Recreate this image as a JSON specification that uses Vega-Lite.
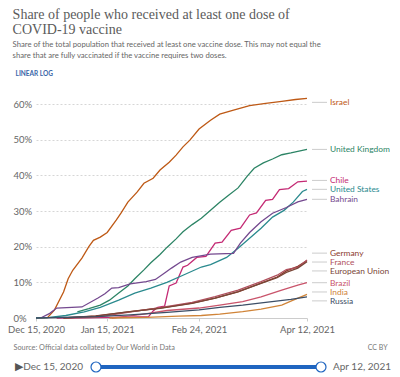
{
  "$schema": "https://vega.github.io/schema/vega-lite/v6.json",
  "padding": {"left": 7, "top": 8, "right": 5, "bottom": 5},
  "background": "white",
  "config": {"view": {"stroke": null}, "font": "Lato"},
  "title": {
    "text": ["Share of people who received at least one dose of", "COVID-19 vaccine"],
    "subtitle": ["Share of the total population that received at least one vaccine dose. This may not equal the", "share that are fully vaccinated if the vaccine requires two doses."],
    "anchor": "start", "frame": "bounds", "dx": 5,
    "font": "Liberation Serif", "fontSize": 14, "fontWeight": "normal", "color": "#5b5b5b", "lineHeight": 15,
    "subtitleFont": "Lato", "subtitleFontSize": 7.7, "subtitleColor": "#666", "subtitleLineHeight": 11, "subtitlePadding": 4,
    "offset": 10
  },
  "datasets": {
    "series": [
      {"country": "Israel", "date": "2020-12-15", "value": 0},
      {"country": "Israel", "date": "2020-12-20", "value": 0.1},
      {"country": "Israel", "date": "2020-12-23", "value": 2.2},
      {"country": "Israel", "date": "2020-12-27", "value": 7.3},
      {"country": "Israel", "date": "2020-12-29", "value": 11},
      {"country": "Israel", "date": "2020-12-31", "value": 13.4},
      {"country": "Israel", "date": "2021-01-04", "value": 16.8},
      {"country": "Israel", "date": "2021-01-07", "value": 20},
      {"country": "Israel", "date": "2021-01-09", "value": 21.8},
      {"country": "Israel", "date": "2021-01-12", "value": 22.7},
      {"country": "Israel", "date": "2021-01-15", "value": 24},
      {"country": "Israel", "date": "2021-01-19", "value": 27.5},
      {"country": "Israel", "date": "2021-01-21", "value": 29.4},
      {"country": "Israel", "date": "2021-01-24", "value": 32.5},
      {"country": "Israel", "date": "2021-01-28", "value": 35.3},
      {"country": "Israel", "date": "2021-01-31", "value": 37.8},
      {"country": "Israel", "date": "2021-02-04", "value": 39.2},
      {"country": "Israel", "date": "2021-02-07", "value": 41.5},
      {"country": "Israel", "date": "2021-02-11", "value": 43.7},
      {"country": "Israel", "date": "2021-02-14", "value": 45.7},
      {"country": "Israel", "date": "2021-02-17", "value": 48},
      {"country": "Israel", "date": "2021-02-20", "value": 49.9},
      {"country": "Israel", "date": "2021-02-24", "value": 53},
      {"country": "Israel", "date": "2021-03-01", "value": 55.5},
      {"country": "Israel", "date": "2021-03-05", "value": 57.2},
      {"country": "Israel", "date": "2021-03-11", "value": 58.3},
      {"country": "Israel", "date": "2021-03-18", "value": 59.6},
      {"country": "Israel", "date": "2021-03-25", "value": 60.2},
      {"country": "Israel", "date": "2021-04-01", "value": 60.8},
      {"country": "Israel", "date": "2021-04-07", "value": 61.3},
      {"country": "Israel", "date": "2021-04-12", "value": 61.6},

      {"country": "United Kingdom", "date": "2021-01-02", "value": 1.7},
      {"country": "United Kingdom", "date": "2021-01-07", "value": 2.6},
      {"country": "United Kingdom", "date": "2021-01-12", "value": 3.6},
      {"country": "United Kingdom", "date": "2021-01-16", "value": 5},
      {"country": "United Kingdom", "date": "2021-01-20", "value": 7},
      {"country": "United Kingdom", "date": "2021-01-24", "value": 9},
      {"country": "United Kingdom", "date": "2021-01-27", "value": 11},
      {"country": "United Kingdom", "date": "2021-01-31", "value": 13.5},
      {"country": "United Kingdom", "date": "2021-02-03", "value": 15.5},
      {"country": "United Kingdom", "date": "2021-02-07", "value": 17.8},
      {"country": "United Kingdom", "date": "2021-02-10", "value": 19.8},
      {"country": "United Kingdom", "date": "2021-02-14", "value": 22.2},
      {"country": "United Kingdom", "date": "2021-02-17", "value": 24.2},
      {"country": "United Kingdom", "date": "2021-02-21", "value": 26.2},
      {"country": "United Kingdom", "date": "2021-02-25", "value": 28},
      {"country": "United Kingdom", "date": "2021-03-01", "value": 30.2},
      {"country": "United Kingdom", "date": "2021-03-05", "value": 32.5},
      {"country": "United Kingdom", "date": "2021-03-09", "value": 34.5},
      {"country": "United Kingdom", "date": "2021-03-13", "value": 36.5},
      {"country": "United Kingdom", "date": "2021-03-17", "value": 39.8},
      {"country": "United Kingdom", "date": "2021-03-20", "value": 42},
      {"country": "United Kingdom", "date": "2021-03-24", "value": 43.5},
      {"country": "United Kingdom", "date": "2021-03-28", "value": 44.6},
      {"country": "United Kingdom", "date": "2021-04-01", "value": 45.8},
      {"country": "United Kingdom", "date": "2021-04-05", "value": 46.3},
      {"country": "United Kingdom", "date": "2021-04-09", "value": 46.9},
      {"country": "United Kingdom", "date": "2021-04-12", "value": 47.3},

      {"country": "Chile", "date": "2020-12-24", "value": 0},
      {"country": "Chile", "date": "2021-01-20", "value": 0.2},
      {"country": "Chile", "date": "2021-02-02", "value": 0.4},
      {"country": "Chile", "date": "2021-02-04", "value": 2},
      {"country": "Chile", "date": "2021-02-06", "value": 3},
      {"country": "Chile", "date": "2021-02-09", "value": 3.3},
      {"country": "Chile", "date": "2021-02-11", "value": 9},
      {"country": "Chile", "date": "2021-02-14", "value": 9.8},
      {"country": "Chile", "date": "2021-02-17", "value": 14.3},
      {"country": "Chile", "date": "2021-02-19", "value": 14.8},
      {"country": "Chile", "date": "2021-02-23", "value": 17},
      {"country": "Chile", "date": "2021-02-27", "value": 17.3},
      {"country": "Chile", "date": "2021-03-03", "value": 21},
      {"country": "Chile", "date": "2021-03-06", "value": 21.3},
      {"country": "Chile", "date": "2021-03-10", "value": 24.6},
      {"country": "Chile", "date": "2021-03-14", "value": 25.2},
      {"country": "Chile", "date": "2021-03-18", "value": 28.9},
      {"country": "Chile", "date": "2021-03-21", "value": 29.5},
      {"country": "Chile", "date": "2021-03-25", "value": 33},
      {"country": "Chile", "date": "2021-03-28", "value": 33.3},
      {"country": "Chile", "date": "2021-03-31", "value": 36},
      {"country": "Chile", "date": "2021-04-04", "value": 36.3},
      {"country": "Chile", "date": "2021-04-08", "value": 38.2},
      {"country": "Chile", "date": "2021-04-12", "value": 38.4},

      {"country": "United States", "date": "2020-12-15", "value": 0},
      {"country": "United States", "date": "2020-12-21", "value": 0.2},
      {"country": "United States", "date": "2020-12-28", "value": 0.7},
      {"country": "United States", "date": "2021-01-05", "value": 1.7},
      {"country": "United States", "date": "2021-01-12", "value": 3},
      {"country": "United States", "date": "2021-01-20", "value": 5},
      {"country": "United States", "date": "2021-01-27", "value": 7},
      {"country": "United States", "date": "2021-02-03", "value": 8.4},
      {"country": "United States", "date": "2021-02-10", "value": 10},
      {"country": "United States", "date": "2021-02-17", "value": 12},
      {"country": "United States", "date": "2021-02-25", "value": 14.3},
      {"country": "United States", "date": "2021-03-01", "value": 15},
      {"country": "United States", "date": "2021-03-08", "value": 17},
      {"country": "United States", "date": "2021-03-13", "value": 19.6},
      {"country": "United States", "date": "2021-03-17", "value": 21.8},
      {"country": "United States", "date": "2021-03-23", "value": 25.2},
      {"country": "United States", "date": "2021-03-28", "value": 28.3},
      {"country": "United States", "date": "2021-04-02", "value": 30.2},
      {"country": "United States", "date": "2021-04-06", "value": 32.5},
      {"country": "United States", "date": "2021-04-10", "value": 35.5},
      {"country": "United States", "date": "2021-04-12", "value": 36.1},

      {"country": "Bahrain", "date": "2020-12-17", "value": 0},
      {"country": "Bahrain", "date": "2020-12-21", "value": 1.3},
      {"country": "Bahrain", "date": "2020-12-24", "value": 2.8},
      {"country": "Bahrain", "date": "2021-01-04", "value": 3.1},
      {"country": "Bahrain", "date": "2021-01-11", "value": 5.6},
      {"country": "Bahrain", "date": "2021-01-14", "value": 6.8},
      {"country": "Bahrain", "date": "2021-01-17", "value": 8.4},
      {"country": "Bahrain", "date": "2021-01-20", "value": 8.5},
      {"country": "Bahrain", "date": "2021-01-25", "value": 9.6},
      {"country": "Bahrain", "date": "2021-02-01", "value": 10.2},
      {"country": "Bahrain", "date": "2021-02-05", "value": 10.8},
      {"country": "Bahrain", "date": "2021-02-09", "value": 12.6},
      {"country": "Bahrain", "date": "2021-02-12", "value": 14},
      {"country": "Bahrain", "date": "2021-02-16", "value": 15.7},
      {"country": "Bahrain", "date": "2021-02-21", "value": 17},
      {"country": "Bahrain", "date": "2021-03-01", "value": 17.9},
      {"country": "Bahrain", "date": "2021-03-11", "value": 18.1},
      {"country": "Bahrain", "date": "2021-03-14", "value": 21},
      {"country": "Bahrain", "date": "2021-03-18", "value": 24},
      {"country": "Bahrain", "date": "2021-03-23", "value": 27},
      {"country": "Bahrain", "date": "2021-03-28", "value": 29.4},
      {"country": "Bahrain", "date": "2021-04-03", "value": 31},
      {"country": "Bahrain", "date": "2021-04-08", "value": 32.6},
      {"country": "Bahrain", "date": "2021-04-12", "value": 33.3},

      {"country": "Germany", "date": "2020-12-27", "value": 0},
      {"country": "Germany", "date": "2021-01-10", "value": 0.6},
      {"country": "Germany", "date": "2021-01-24", "value": 1.7},
      {"country": "Germany", "date": "2021-02-07", "value": 2.8},
      {"country": "Germany", "date": "2021-02-21", "value": 4.2},
      {"country": "Germany", "date": "2021-03-03", "value": 5.6},
      {"country": "Germany", "date": "2021-03-13", "value": 7.3},
      {"country": "Germany", "date": "2021-03-23", "value": 9.8},
      {"country": "Germany", "date": "2021-03-30", "value": 11.5},
      {"country": "Germany", "date": "2021-04-03", "value": 13.2},
      {"country": "Germany", "date": "2021-04-08", "value": 14.5},
      {"country": "Germany", "date": "2021-04-12", "value": 16.1},

      {"country": "France", "date": "2020-12-27", "value": 0},
      {"country": "France", "date": "2021-01-10", "value": 0.2},
      {"country": "France", "date": "2021-01-24", "value": 1.6},
      {"country": "France", "date": "2021-02-07", "value": 2.9},
      {"country": "France", "date": "2021-02-21", "value": 4.4},
      {"country": "France", "date": "2021-03-03", "value": 6},
      {"country": "France", "date": "2021-03-13", "value": 7.8},
      {"country": "France", "date": "2021-03-23", "value": 10.2},
      {"country": "France", "date": "2021-03-30", "value": 12},
      {"country": "France", "date": "2021-04-03", "value": 13.6},
      {"country": "France", "date": "2021-04-08", "value": 14.2},
      {"country": "France", "date": "2021-04-12", "value": 16.3},

      {"country": "European Union", "date": "2020-12-27", "value": 0},
      {"country": "European Union", "date": "2021-01-10", "value": 0.5},
      {"country": "European Union", "date": "2021-01-24", "value": 1.7},
      {"country": "European Union", "date": "2021-02-07", "value": 2.7},
      {"country": "European Union", "date": "2021-02-21", "value": 4.1},
      {"country": "European Union", "date": "2021-03-03", "value": 5.6},
      {"country": "European Union", "date": "2021-03-13", "value": 7.4},
      {"country": "European Union", "date": "2021-03-23", "value": 9.7},
      {"country": "European Union", "date": "2021-03-30", "value": 11.3},
      {"country": "European Union", "date": "2021-04-03", "value": 12.8},
      {"country": "European Union", "date": "2021-04-08", "value": 14},
      {"country": "European Union", "date": "2021-04-12", "value": 15.8},

      {"country": "Brazil", "date": "2021-01-17", "value": 0},
      {"country": "Brazil", "date": "2021-01-24", "value": 0.5},
      {"country": "Brazil", "date": "2021-01-31", "value": 1.1},
      {"country": "Brazil", "date": "2021-02-10", "value": 2.1},
      {"country": "Brazil", "date": "2021-02-24", "value": 2.8},
      {"country": "Brazil", "date": "2021-03-05", "value": 3.6},
      {"country": "Brazil", "date": "2021-03-15", "value": 4.6},
      {"country": "Brazil", "date": "2021-03-23", "value": 5.9},
      {"country": "Brazil", "date": "2021-04-01", "value": 7.8},
      {"country": "Brazil", "date": "2021-04-08", "value": 9.2},
      {"country": "Brazil", "date": "2021-04-12", "value": 9.9},

      {"country": "India", "date": "2021-01-16", "value": 0},
      {"country": "India", "date": "2021-02-01", "value": 0.2},
      {"country": "India", "date": "2021-02-15", "value": 0.5},
      {"country": "India", "date": "2021-02-25", "value": 0.7},
      {"country": "India", "date": "2021-03-05", "value": 1.1},
      {"country": "India", "date": "2021-03-15", "value": 1.8},
      {"country": "India", "date": "2021-03-23", "value": 2.5},
      {"country": "India", "date": "2021-04-01", "value": 3.6},
      {"country": "India", "date": "2021-04-06", "value": 5},
      {"country": "India", "date": "2021-04-12", "value": 6.6},

      {"country": "Russia", "date": "2020-12-15", "value": 0},
      {"country": "Russia", "date": "2021-01-10", "value": 0.4},
      {"country": "Russia", "date": "2021-01-25", "value": 0.9},
      {"country": "Russia", "date": "2021-02-10", "value": 1.6},
      {"country": "Russia", "date": "2021-02-24", "value": 2.3},
      {"country": "Russia", "date": "2021-03-05", "value": 3},
      {"country": "Russia", "date": "2021-03-15", "value": 3.6},
      {"country": "Russia", "date": "2021-03-25", "value": 4.4},
      {"country": "Russia", "date": "2021-04-05", "value": 5.2},
      {"country": "Russia", "date": "2021-04-12", "value": 5.9}
    ],
    "labels": [
      {"country": "Israel", "date": "2021-04-12", "label_at": 60.5},
      {"country": "United Kingdom", "date": "2021-04-12", "label_at": 47.3},
      {"country": "Chile", "date": "2021-04-12", "label_at": 38.6},
      {"country": "United States", "date": "2021-04-12", "label_at": 36.1},
      {"country": "Bahrain", "date": "2021-04-12", "label_at": 33.3},
      {"country": "Germany", "date": "2021-04-12", "label_at": 18.2},
      {"country": "France", "date": "2021-04-12", "label_at": 15.7},
      {"country": "European Union", "date": "2021-04-12", "label_at": 13.2},
      {"country": "Brazil", "date": "2021-04-12", "label_at": 9.9},
      {"country": "India", "date": "2021-04-12", "label_at": 7.3},
      {"country": "Russia", "date": "2021-04-12", "label_at": 4.8}
    ],
    "range": [
      {"start": "2020-12-15", "end": "2021-04-12"}
    ]
  },
  "spacing": 8,
  "vconcat": [
    {
      "width": 271,
      "height": 221,
      "encoding": {
        "color": {
          "field": "country", "type": "nominal", "legend": null,
          "scale": {
            "domain": ["Israel", "United Kingdom", "Chile", "United States", "Bahrain", "Germany", "France", "European Union", "Brazil", "India", "Russia"],
            "range": ["#BE5915", "#2C8465", "#C42A74", "#2A8A8E", "#74498F", "#8C3A2B", "#B0505E", "#7A4637", "#C9546B", "#D08438", "#3C4E66"]
          }
        }
      },
      "resolve": {"scale": {"y": "independent"}, "axis": {"y": "independent"}},
      "layer": [
        {
          "data": {"name": "series"},
          "mark": {"type": "line", "strokeWidth": 1.3},
          "encoding": {
            "x": {
              "field": "date", "type": "temporal",
              "scale": {"type": "utc", "domain": [{"year": 2020, "month": 12, "date": 15, "utc": true}, {"year": 2021, "month": 4, "date": 12, "utc": true}]},
              "axis": {
                "values": [{"year": 2020, "month": 12, "date": 15, "utc": true}, {"year": 2021, "month": 1, "date": 15, "utc": true}, {"year": 2021, "month": 2, "date": 24, "utc": true}, {"year": 2021, "month": 4, "date": 12, "utc": true}],
                "format": "%b %-d, %Y",
                "grid": false, "domainColor": "#ccc", "tickColor": "#ccc", "tickSize": 3,
                "labelFont": "Lato", "labelFontSize": 9.5, "labelColor": "#666", "labelPadding": 3,
                "labelFlush": false, "labelOverlap": false, "labelBound": false,
                "title": "Source: Official data collated by Our World in Data",
                "titleFont": "Lato", "titleFontSize": 7.3, "titleFontWeight": "normal", "titleColor": "#777",
                "titleAnchor": "start", "titleAlign": "left", "titleBaseline": "middle", "titleX": -23, "titleY": 29
              }
            },
            "y": {
              "field": "value", "type": "quantitative",
              "scale": {"domain": [0, 62], "nice": false},
              "axis": {
                "orient": "left",
                "values": [0, 10, 20, 30, 40, 50, 60],
                "labelExpr": "datum.value + '%'",
                "grid": true, "gridDash": [2, 2], "gridColor": "#d6d6d6",
                "domain": false, "ticks": false, "labelOverlap": false,
                "labelAlign": "left", "labelPadding": 23, "labelBaseline": "middle",
                "labelFont": "Lato", "labelFontSize": 9.5, "labelColor": "#666",
                "title": "LINEAR  LOG", "titleAngle": 0, "titleAlign": "left", "titleBaseline": "middle",
                "titleX": -21, "titleY": -24, "titleFont": "Lato", "titleFontSize": 6.5, "titleFontWeight": "bold", "titleColor": "#3a66a8"
              }
            }
          }
        },
        {
          "data": {"name": "labels"},
          "mark": {"type": "rule", "strokeWidth": 1, "xOffset": 5, "x2Offset": 20},
          "encoding": {
            "x": {"field": "date", "type": "temporal"},
            "x2": {"field": "date"},
            "y": {
              "field": "label_at", "type": "quantitative",
              "scale": {"domain": [0, 62], "nice": false},
              "axis": {
                "orient": "right", "labels": false, "ticks": false, "domain": false, "grid": false,
                "title": "CC BY", "titleAngle": 0, "titleAlign": "right", "titleBaseline": "middle",
                "titleX": 80, "titleY": 250, "titleFont": "Lato", "titleFontSize": 7, "titleFontWeight": "normal", "titleColor": "#777"
              }
            },
            "color": {"value": "#cccccc"}
          }
        },
        {
          "data": {"name": "labels"},
          "mark": {"type": "text", "align": "left", "baseline": "middle", "dx": 23, "font": "Lato", "fontSize": 8.4},
          "encoding": {
            "x": {"field": "date", "type": "temporal"},
            "y": {"field": "label_at", "type": "quantitative", "scale": {"domain": [0, 62], "nice": false}, "axis": null},
            "text": {"field": "country", "type": "nominal"}
          }
        }
      ]
    },
    {
      "width": 285,
      "height": 10,
      "data": {"name": "range"},
      "encoding": {
        "x": {"field": "start", "type": "temporal", "axis": null, "scale": {"range": [60, 285]}}
      },
      "layer": [
        {
          "mark": {"type": "rule", "color": "#1f65c0", "strokeWidth": 4},
          "encoding": {
            "x2": {"field": "end"}
          }
        },
        {
          "mark": {"type": "point", "filled": true, "fill": "white", "stroke": "#1f65c0", "strokeWidth": 1.2, "size": 100, "opacity": 1}
        },
        {
          "mark": {"type": "point", "filled": true, "fill": "white", "stroke": "#1f65c0", "strokeWidth": 1.2, "size": 100, "opacity": 1},
          "encoding": {"x": {"field": "end", "type": "temporal", "axis": null}}
        },
        {
          "mark": {"type": "text", "align": "right", "baseline": "middle", "dx": -13, "font": "Lato", "fontSize": 10, "color": "#666"},
          "encoding": {
            "text": {"field": "start", "type": "temporal", "timeUnit": "utcyearmonthdate", "format": "%b %-d, %Y"}
          }
        },
        {
          "mark": {"type": "text", "align": "right", "baseline": "middle", "dx": -73, "font": "Lato", "fontSize": 11, "color": "#555"},
          "encoding": {
            "text": {"value": "▶"}
          }
        },
        {
          "mark": {"type": "text", "align": "left", "baseline": "middle", "dx": 12, "font": "Lato", "fontSize": 10, "color": "#666"},
          "encoding": {
            "x": {"field": "end", "type": "temporal", "axis": null},
            "text": {"field": "end", "type": "temporal", "timeUnit": "utcyearmonthdate", "format": "%b %-d, %Y"}
          }
        }
      ]
    }
  ]
}
